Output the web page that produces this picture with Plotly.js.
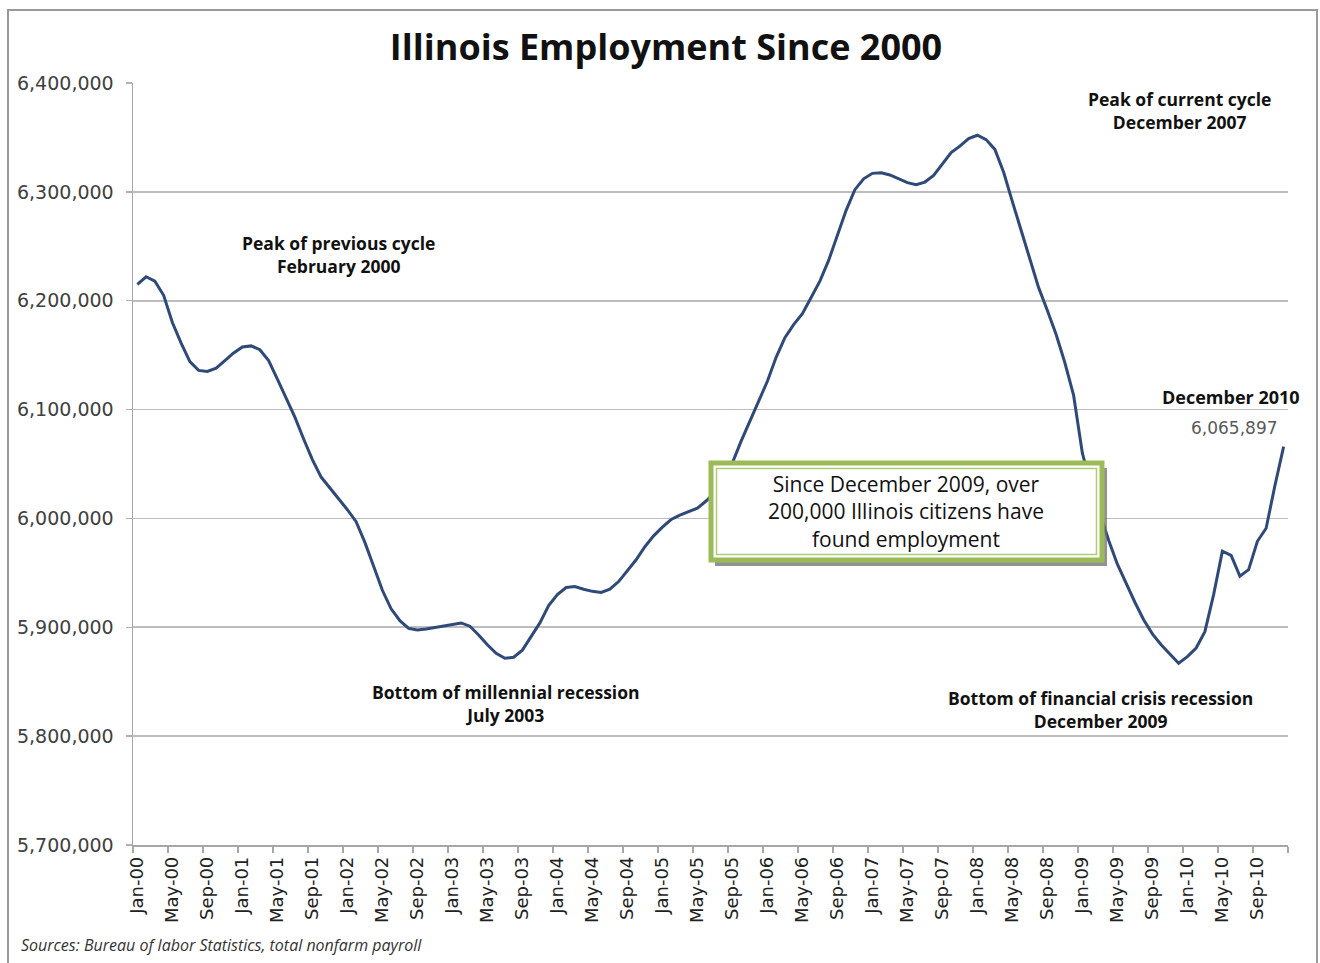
<!DOCTYPE html>
<html>
<head>
<meta charset="utf-8">
<script src="https://cdn.plot.ly/plotly-3.0.1.min.js"></script>
<style>
  html, body { margin: 0; padding: 0; background: #ffffff; }
  #chart { width: 1320px; height: 963px; }
</style>
</head>
<body>
<div id="chart"></div>
<script>
// ---- Data (monthly Illinois total nonfarm employment, Jan 2000 - Dec 2010) ----
var years = ["00","01","02","03","04","05","06","07","08","09","10"];
var monthNames = ["Jan","Feb","Mar","Apr","May","Jun","Jul","Aug","Sep","Oct","Nov","Dec"];

var emp2000 = [6215000, 6222000, 6218000, 6205000, 6180000, 6161000, 6144000, 6136000, 6135000, 6138000, 6145000, 6152000];
var emp2001 = [6157500, 6158500, 6155000, 6145000, 6128000, 6111000, 6093000, 6073000, 6054000, 6038000, 6028000, 6019000];
var emp2002 = [6008000, 5997000, 5978000, 5956000, 5934000, 5917000, 5906000, 5899000, 5897500, 5898500, 5900000, 5901500];
var emp2003 = [5903000, 5904000, 5901000, 5893000, 5884000, 5876000, 5871500, 5872500, 5879000, 5891000, 5904000, 5920000];
var emp2004 = [5930000, 5936500, 5937500, 5935000, 5933000, 5932000, 5935000, 5942000, 5952000, 5962000, 5974000, 5984000];
var emp2005 = [5992000, 5999000, 6003000, 6006000, 6009500, 6016000, 6024000, 6036000, 6051000, 6071000, 6089000, 6108000];
var emp2006 = [6126000, 6148000, 6166000, 6178000, 6188000, 6203000, 6218000, 6237000, 6261000, 6283000, 6302000, 6312000];
var emp2007 = [6317000, 6317500, 6315500, 6312000, 6308500, 6306500, 6309000, 6315000, 6325000, 6336000, 6342000, 6349000];
var emp2008 = [6352000, 6348000, 6339000, 6318000, 6291000, 6264000, 6238000, 6212000, 6191000, 6169000, 6143000, 6113000];
var emp2009 = [6060000, 6030000, 6005000, 5980000, 5958000, 5940000, 5923000, 5907000, 5894000, 5884000, 5875000, 5867000];
var emp2010 = [5873000, 5881000, 5896000, 5930000, 5970000, 5966000, 5947000, 5953000, 5979000, 5991000, 6030000, 6065897];

var yTickVals = [5700000, 5800000, 5900000, 6000000, 6100000, 6200000, 6300000, 6400000];

// ---- Build series ----
var series = [].concat(emp2000, emp2001, emp2002, emp2003, emp2004, emp2005,
                       emp2006, emp2007, emp2008, emp2009, emp2010);
var monthLabels = [];
years.forEach(function (yy) { monthNames.forEach(function (m) { monthLabels.push(m + "-" + yy); }); });
var xIdx = monthLabels.map(function (_, i) { return i; });

var labelVals = [], labelText = [];
for (var i = 0; i < monthLabels.length; i += 4) { labelVals.push(i); labelText.push(monthLabels[i]); }
var boundaryVals = [];
for (var b = -0.5; b <= monthLabels.length - 0.5; b += 4) { boundaryVals.push(b); }

// ---- Pixel helpers for layout placement ----
var L = 133, R = 1288, T = 83, B = 845;
function px(x) { return (x - L) / (R - L); }
function py(y) { return (B - y) / (B - T); }

var boldFont = { family: "Open Sans, sans-serif", size: 17.5, color: "#111111", weight: 700 };
function note(text, x, y, extra) {
  var a = { xref: "paper", yref: "paper", x: px(x), y: py(y), xanchor: "center", yanchor: "middle",
            text: text, showarrow: false, font: boldFont, align: "center", borderpad: 0 };
  if (extra) { for (var k in extra) a[k] = extra[k]; }
  return a;
}

var trace = {
  x: xIdx, y: series, type: "scatter", mode: "lines",
  line: { color: "#2f4a78", width: 3 },
  text: monthLabels, hoverinfo: "text+y"
};

var green = "#9bbb59";
var annotations = [
  note("Peak of previous cycle<br>February 2000", 338, 254),
  note("Peak of current cycle<br>December 2007", 1179, 110),
  note("Bottom of millennial recession<br>July 2003", 506, 703),
  note("Bottom of financial crisis recession<br>December 2009", 1100, 709),
  note("December 2010", 1301, 397, { xanchor: "right", font: { family: "Open Sans, sans-serif", size: 18, color: "#111111", weight: 700 } }),
  note("6,065,897", 1234, 428, { font: { family: "DejaVu Sans, sans-serif", size: 17, color: "#5a5a5a" } }),
  note("Since December 2009, over<br>200,000 Illinois citizens have<br>found employment", 906, 511,
       { font: { family: "Open Sans, sans-serif", size: 21, color: "#111111" } }),
  note("Sources: Bureau of labor Statistics, total nonfarm payroll", 20, 945,
       { xanchor: "left", font: { family: "Open Sans, sans-serif", size: 16, color: "#333333", style: "italic" } })
];

var layout = {
  width: 1320, height: 963,
  margin: { l: L, r: 1320 - R, t: T, b: 963 - B },
  paper_bgcolor: "#ffffff", plot_bgcolor: "#ffffff",
  showlegend: false,
  title: {
    text: "<b>Illinois Employment Since 2000</b>",
    xref: "container", yref: "container", x: 666 / 1320, y: 1 - 47 / 963,
    xanchor: "center", yanchor: "middle",
    font: { family: "Open Sans, sans-serif", size: 36, color: "#111111" }
  },
  xaxis: {
    range: [-0.5, monthLabels.length - 0.5],
    tickmode: "array", tickvals: labelVals, ticktext: labelText,
    tickangle: -90, ticks: "",
    ticklabelstandoff: 3,
    tickfont: { family: "DejaVu Sans, sans-serif", size: 18, color: "#222222" },
    showgrid: false, zeroline: false,
    showline: true, linecolor: "#a6a6a6", linewidth: 1.5,
    minor: { tickmode: "array", tickvals: boundaryVals, ticks: "outside", ticklen: 6,
             tickcolor: "#a6a6a6", tickwidth: 1.5, showgrid: false },
    fixedrange: true
  },
  yaxis: {
    range: [5700000, 6400000],
    tickmode: "array", tickvals: yTickVals,
    tickformat: ",d",
    ticks: "outside", ticklen: 6, tickcolor: "#b0b0b0", tickwidth: 1.5,
    ticklabelstandoff: 8,
    tickfont: { family: "DejaVu Sans, sans-serif", size: 19, color: "#404040" },
    showgrid: true, gridcolor: "#bdbdbd", gridwidth: 1.6,
    zeroline: false,
    showline: true, linecolor: "#a6a6a6", linewidth: 1.5,
    fixedrange: true
  },
  shapes: [
    { type: "rect", xref: "paper", yref: "paper", x0: px(8), x1: px(1317), y0: py(990), y1: py(10),
      line: { color: "#9a9a9a", width: 2 }, fillcolor: "rgba(0,0,0,0)", layer: "below" },
    { type: "rect", xref: "paper", yref: "paper", x0: px(715), x1: px(1107), y0: py(566), y1: py(468),
      line: { width: 0 }, fillcolor: "rgba(110,110,110,0.75)", layer: "above" },
    { type: "rect", xref: "paper", yref: "paper", x0: px(711), x1: px(1102), y0: py(560), y1: py(463),
      line: { color: green, width: 5 }, fillcolor: "#ffffff", layer: "above" },
    { type: "rect", xref: "paper", yref: "paper", x0: px(716.5), x1: px(1096.5), y0: py(554.5), y1: py(468.5),
      line: { color: "#aecb78", width: 1.5 }, fillcolor: "rgba(0,0,0,0)", layer: "above" }
  ],
  annotations: annotations
};

Plotly.newPlot("chart", [trace], layout, { displayModeBar: false, staticPlot: true });
</script>
</body>
</html>
